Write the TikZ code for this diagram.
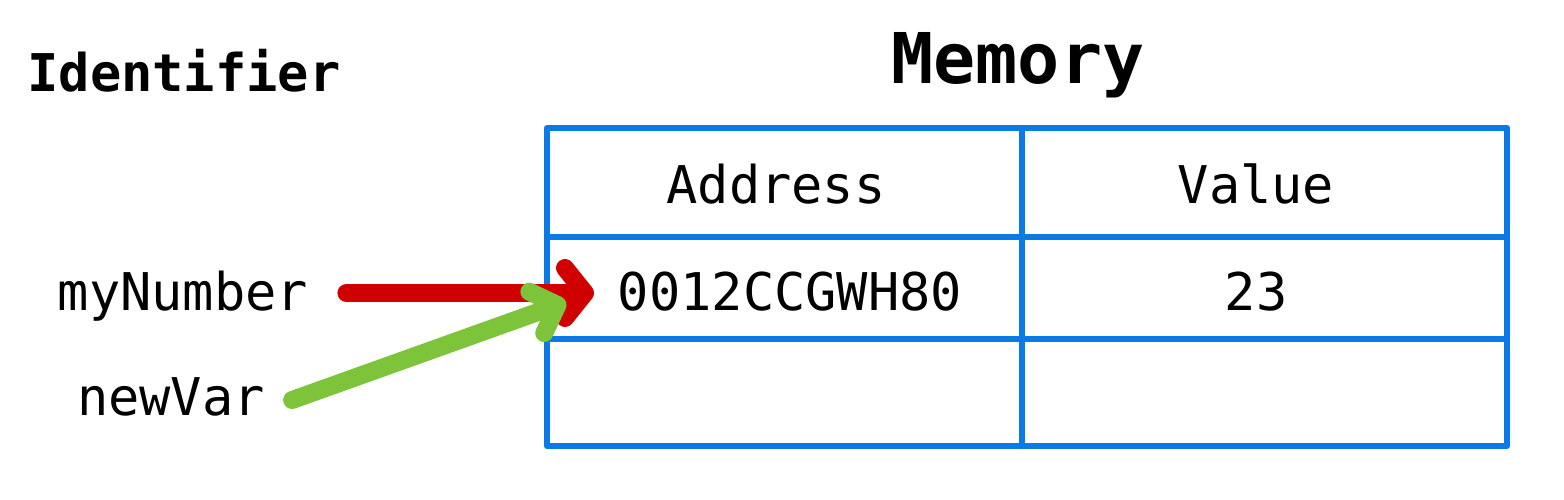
\documentclass[tikz,border=0pt]{standalone}
\usepackage{fontspec}
\newfontfamily\dvm{DejaVu Sans Mono}
\usetikzlibrary{arrows.meta}
\definecolor{tblue}{HTML}{0A7AE6}
\definecolor{ared}{HTML}{D10000}
\definecolor{agreen}{HTML}{7DC43A}
\begin{document}
\begin{tikzpicture}[x=1pt,y=-1pt,
  lbl/.style={font=\dvm\fontsize{52}{60}\selectfont, inner sep=0pt, anchor=base},
  title/.style={font=\dvm\bfseries\fontsize{52}{60}\selectfont, inner sep=0pt, anchor=base},
  grid/.style={draw=tblue, line width=6pt, line join=round, line cap=round},
  redarrow/.style={draw=ared, line width=18pt, line cap=round,
    -{Straight Barb[length=20pt, width=50pt, round]}},
  greenarrow/.style={draw=agreen, line width=18pt, line cap=round,
    -{Straight Barb[length=22pt, width=44pt, round]}}]
\useasboundingbox (0,0) rectangle (1564,500);
% titles
\node[title] (ident) at (184,92) {Identifier};
\node[title, font=\dvm\bfseries\fontsize{70}{80}\selectfont] (mem) at (1018,84) {Memory};
% table
\draw[grid] (547,128) rectangle (1507,446);
\draw[grid] (1022,128) -- (1022,446);
\draw[grid] (547,237) -- (1507,237);
\draw[grid] (547,339) -- (1507,339);
\node[lbl] (addrH) at (776,203) {Address};
\node[lbl] (valH) at (1256,203) {Value};
\node[lbl] (addr) at (790,310) {0012CCGWH80};
\node[lbl] (val) at (1256,310) {23};
% identifiers
\node[lbl] (myNumber) at (183,310) {myNumber};
\node[lbl] (newVar) at (171,415) {newVar};
% arrows
\coordinate (rtip) at (594,293);
\coordinate (gtip) at (566,302);
\draw[redarrow] ([xshift=38pt,yshift=17pt]myNumber.base east) -- (rtip);
\draw[greenarrow] ([xshift=27pt,yshift=15pt]newVar.base east) -- (gtip);
\end{tikzpicture}
\end{document}
